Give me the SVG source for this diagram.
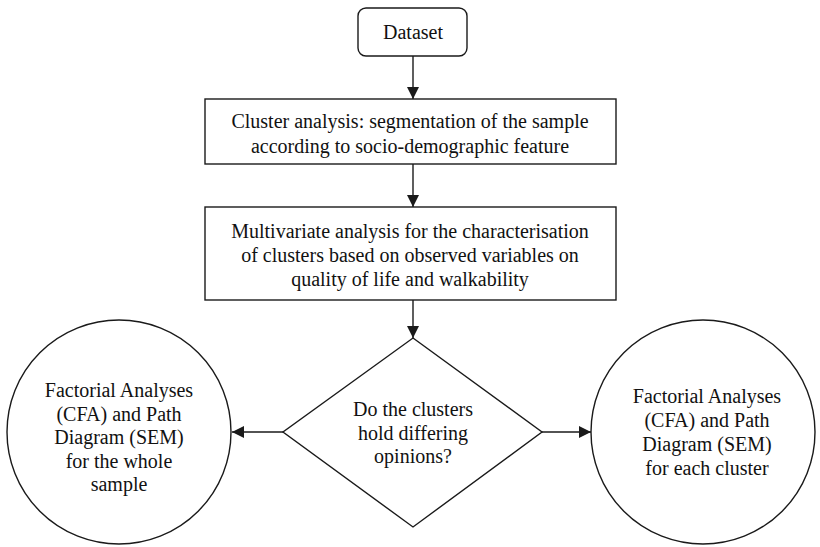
<svg xmlns="http://www.w3.org/2000/svg" width="820" height="547" viewBox="0 0 820 547">
  <style>
    .shape { fill: #ffffff; stroke: #1a1a1a; stroke-width: 1.4; }
    .edge { fill: none; stroke: #1a1a1a; stroke-width: 1.4; }
    text { font-family: "Liberation Serif", "Times New Roman", serif; font-size: 20px; fill: #111111; text-anchor: middle; }
  </style>
  <defs>
    <marker id="arrow" viewBox="0 0 12 12" refX="12" refY="6" markerWidth="12" markerHeight="12" markerUnits="userSpaceOnUse" orient="auto">
      <path d="M0,0 L12,6 L0,12 Z" fill="#1a1a1a"/>
    </marker>
  </defs>

  <rect width="820" height="547" fill="#ffffff"/>

  <g id="connectors">
    <line class="edge" x1="413" y1="56" x2="413" y2="99" marker-end="url(#arrow)"/>
    <line class="edge" x1="413" y1="164" x2="413" y2="207" marker-end="url(#arrow)"/>
    <line class="edge" x1="413" y1="300" x2="413" y2="338" marker-end="url(#arrow)"/>
    <line class="edge" x1="283" y1="432" x2="232" y2="432" marker-end="url(#arrow)"/>
    <line class="edge" x1="542" y1="432" x2="591" y2="432" marker-end="url(#arrow)"/>
  </g>

  <g id="dataset">
    <rect class="shape" x="358" y="8" width="109" height="48" rx="8" ry="8"/>
    <text x="413" y="39">Dataset</text>
  </g>

  <g id="cluster-analysis">
    <rect class="shape" x="205" y="99" width="411" height="65"/>
    <text x="410" y="128">Cluster analysis: segmentation of the sample</text>
    <text x="410" y="153">according to socio-demographic feature</text>
  </g>

  <g id="multivariate-analysis">
    <rect class="shape" x="205" y="207" width="411" height="93"/>
    <text x="410" y="238">Multivariate analysis for the characterisation</text>
    <text x="410" y="262">of clusters based on observed variables on</text>
    <text x="410" y="286">quality of life and walkability</text>
  </g>

  <g id="decision">
    <polygon class="shape" points="413,338 542,432 413,527 283,432"/>
    <text x="413" y="416">Do the clusters</text>
    <text x="413" y="440">hold differing</text>
    <text x="413" y="463">opinions?</text>
  </g>

  <g id="whole-sample">
    <circle class="shape" cx="119" cy="432" r="112"/>
    <text x="119" y="397">Factorial Analyses</text>
    <text x="119" y="421">(CFA) and Path</text>
    <text x="119" y="444">Diagram (SEM)</text>
    <text x="119" y="468">for the whole</text>
    <text x="119" y="491">sample</text>
  </g>

  <g id="each-cluster">
    <circle class="shape" cx="703" cy="432" r="112"/>
    <text x="707" y="403">Factorial Analyses</text>
    <text x="707" y="427">(CFA) and Path</text>
    <text x="707" y="451">Diagram (SEM)</text>
    <text x="707" y="475">for each cluster</text>
  </g>
</svg>
